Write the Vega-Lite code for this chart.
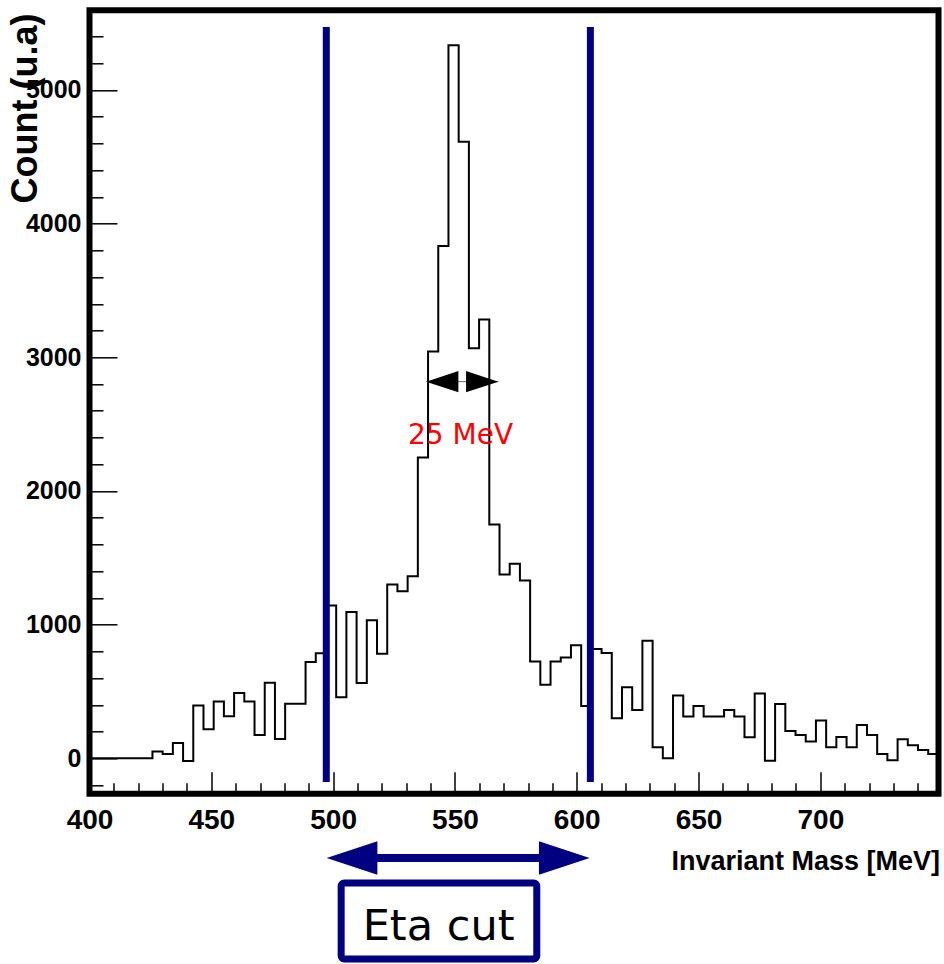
{
  "$schema": "https://vega.github.io/schema/vega-lite/v6.json",
  "width": 849,
  "height": 783.5,
  "autosize": {"type": "none"},
  "padding": {"left": 89.5, "top": 10.3, "right": 5.5, "bottom": 170.2},
  "background": "white",
  "config": {
    "view": {"stroke": "black", "strokeWidth": 6},
    "axis": {"grid": false, "domain": false, "tickColor": "black", "tickWidth": 1.5, "labelColor": "black", "titleColor": "black"}
  },
  "datasets": {
    "hist": [
      {"mass": 400.00, "count": 0}, {"mass": 404.89, "count": 0}, {"mass": 409.08, "count": 0}, {"mass": 413.27, "count": 0},
      {"mass": 417.46, "count": 0}, {"mass": 421.65, "count": 0}, {"mass": 425.84, "count": 50}, {"mass": 430.03, "count": 32},
      {"mass": 434.22, "count": 115}, {"mass": 438.41, "count": -20}, {"mass": 442.60, "count": 395}, {"mass": 446.79, "count": 218},
      {"mass": 450.98, "count": 425}, {"mass": 455.17, "count": 315}, {"mass": 459.36, "count": 488}, {"mass": 463.55, "count": 425},
      {"mass": 467.74, "count": 175}, {"mass": 471.93, "count": 565}, {"mass": 476.12, "count": 145}, {"mass": 480.31, "count": 408},
      {"mass": 484.50, "count": 408}, {"mass": 488.69, "count": 720}, {"mass": 492.88, "count": 785}, {"mass": 497.07, "count": 1143},
      {"mass": 501.26, "count": 457}, {"mass": 505.45, "count": 1095}, {"mass": 509.64, "count": 563}, {"mass": 513.83, "count": 1032},
      {"mass": 518.02, "count": 782}, {"mass": 522.21, "count": 1300}, {"mass": 526.40, "count": 1250}, {"mass": 530.59, "count": 1362},
      {"mass": 534.78, "count": 2250}, {"mass": 538.97, "count": 3043}, {"mass": 543.16, "count": 3833}, {"mass": 547.35, "count": 5334},
      {"mass": 551.54, "count": 4613}, {"mass": 555.73, "count": 3068}, {"mass": 559.92, "count": 3283}, {"mass": 564.11, "count": 1750},
      {"mass": 568.30, "count": 1375}, {"mass": 572.49, "count": 1455}, {"mass": 576.68, "count": 1330}, {"mass": 580.87, "count": 725},
      {"mass": 585.06, "count": 550}, {"mass": 589.25, "count": 725}, {"mass": 593.44, "count": 755}, {"mass": 597.63, "count": 845},
      {"mass": 601.82, "count": 392}, {"mass": 606.01, "count": 817}, {"mass": 610.20, "count": 787}, {"mass": 614.39, "count": 300},
      {"mass": 618.58, "count": 532}, {"mass": 622.77, "count": 362}, {"mass": 626.96, "count": 880}, {"mass": 631.15, "count": 82},
      {"mass": 635.34, "count": 0}, {"mass": 639.53, "count": 470}, {"mass": 643.72, "count": 312}, {"mass": 647.91, "count": 392},
      {"mass": 652.10, "count": 312}, {"mass": 656.29, "count": 312}, {"mass": 660.48, "count": 362}, {"mass": 664.67, "count": 312},
      {"mass": 668.86, "count": 157}, {"mass": 673.05, "count": 485}, {"mass": 677.24, "count": -18}, {"mass": 681.43, "count": 407},
      {"mass": 685.62, "count": 205}, {"mass": 689.81, "count": 175}, {"mass": 694.00, "count": 125}, {"mass": 698.19, "count": 282},
      {"mass": 702.38, "count": 82}, {"mass": 706.57, "count": 160}, {"mass": 710.76, "count": 82}, {"mass": 714.95, "count": 250},
      {"mass": 719.14, "count": 175}, {"mass": 723.33, "count": 32}, {"mass": 727.52, "count": -15}, {"mass": 731.71, "count": 142},
      {"mass": 735.90, "count": 97}, {"mass": 740.09, "count": 62}, {"mass": 744.28, "count": 32}, {"mass": 748.47, "count": 32}
    ],
    "cuts": [
      {"mass": 497.2, "lo": -177, "hi": 5471},
      {"mass": 605.6, "lo": -177, "hi": 5471}
    ]
  },
  "resolve": {"axis": {"x": "independent", "y": "independent"}},
  "layer": [
    {
      "data": {"name": "hist"},
      "mark": {"type": "line", "interpolate": "step-after", "color": "black", "strokeWidth": 2},
      "encoding": {
        "x": {
          "field": "mass", "type": "quantitative",
          "scale": {"domain": [400, 748.5], "nice": false, "zero": false},
          "axis": {
            "orient": "bottom",
            "values": [400, 450, 500, 550, 600, 650, 700],
            "format": "d",
            "tickSize": -22,
            "labelPadding": 35,
            "labelFont": "Liberation Sans", "labelFontWeight": "bold", "labelFontSize": 28,
            "labelFlush": false, "labelOverlap": false, "labelBound": false,
            "title": "Invariant Mass [MeV]",
            "titleFont": "Liberation Sans", "titleFontWeight": "bold", "titleFontSize": 27,
            "titleAnchor": "end", "titleAlign": "right", "titleBaseline": "alphabetic",
            "titleX": 850, "titleY": 75.5
          }
        },
        "y": {
          "field": "count", "type": "quantitative",
          "scale": {"domain": [-265.6, 5596], "nice": false, "zero": false},
          "axis": {
            "orient": "left",
            "values": [0, 1000, 2000, 3000, 4000, 5000],
            "format": "d",
            "tickSize": -27.5,
            "labelPadding": 36,
            "labelFont": "Liberation Sans", "labelFontWeight": "bold", "labelFontSize": 25,
            "labelFlush": false, "labelOverlap": false, "labelBound": false,
            "title": "Count (u.a)",
            "titleFont": "Liberation Sans", "titleFontWeight": "bold", "titleFontSize": 36,
            "titleAngle": -90, "titleAnchor": "end", "titleAlign": "right", "titleBaseline": "alphabetic",
            "titleX": -53, "titleY": 2.7
          }
        }
      }
    },
    {
      "data": {"name": "cuts"},
      "mark": {"type": "rule", "color": "#000080", "strokeWidth": 7},
      "encoding": {
        "x": {
          "field": "mass", "type": "quantitative",
          "scale": {"domain": [400, 748.5], "nice": false, "zero": false},
          "axis": {
            "orient": "bottom",
            "values": [410, 420, 430, 440, 460, 470, 480, 490, 510, 520, 530, 540, 560, 570, 580, 590, 610, 620, 630, 640, 660, 670, 680, 690, 710, 720, 730, 740],
            "tickSize": -11, "labels": false, "title": null
          }
        },
        "y": {
          "field": "lo", "type": "quantitative",
          "scale": {"domain": [-265.6, 5596], "nice": false, "zero": false},
          "axis": {
            "orient": "left",
            "values": [-200, 200, 400, 600, 800, 1200, 1400, 1600, 1800, 2200, 2400, 2600, 2800, 3200, 3400, 3600, 3800, 4200, 4400, 4600, 4800, 5200, 5400],
            "tickSize": -13.5, "labels": false, "title": null
          }
        },
        "y2": {"field": "hi"}
      }
    },
    {
      "data": {"values": [{"from": 538.3, "to": 567.8, "level": 2818}]},
      "mark": {"type": "rule", "color": "#666666", "strokeWidth": 1},
      "encoding": {
        "x": {"field": "from", "type": "quantitative", "axis": null},
        "x2": {"field": "to"},
        "y": {"field": "level", "type": "quantitative", "axis": null}
      }
    },
    {
      "data": {"values": [
        {"mass": 544.8, "level": 2818, "dir": "left"},
        {"mass": 561.2, "level": 2818, "dir": "right"}
      ]},
      "mark": {"type": "point", "filled": true, "opacity": 1, "color": "black", "size": 1043, "strokeWidth": 0},
      "encoding": {
        "x": {"field": "mass", "type": "quantitative", "axis": null},
        "y": {"field": "level", "type": "quantitative", "axis": null},
        "shape": {"field": "dir", "type": "nominal", "legend": null,
          "scale": {"domain": ["left", "right"], "range": ["M-1,0L1,-0.66L1,0.66Z", "M1,0L-1,-0.66L-1,0.66Z"]}}
      }
    },
    {
      "data": {"values": [{"mass": 552.3, "count": 2351, "label": "25 MeV"}]},
      "mark": {"type": "text", "color": "red", "font": "DejaVu Sans", "fontSize": 28, "align": "center", "baseline": "alphabetic"},
      "encoding": {
        "x": {"field": "mass", "type": "quantitative", "axis": null},
        "y": {"field": "count", "type": "quantitative", "axis": null},
        "text": {"field": "label"}
      }
    },
    {
      "data": {"values": [{"from": 507.75, "to": 594.9, "level": -746}]},
      "mark": {"type": "rule", "color": "#000080", "strokeWidth": 8},
      "encoding": {
        "x": {"field": "from", "type": "quantitative", "axis": null},
        "x2": {"field": "to"},
        "y": {"field": "level", "type": "quantitative", "axis": null}
      }
    },
    {
      "data": {"values": [
        {"mass": 507.76, "level": -746, "dir": "left"},
        {"mass": 594.9, "level": -746, "dir": "right"}
      ]},
      "mark": {"type": "point", "filled": true, "opacity": 1, "color": "#000080", "size": 2570, "strokeWidth": 0},
      "encoding": {
        "x": {"field": "mass", "type": "quantitative", "axis": null},
        "y": {"field": "level", "type": "quantitative", "axis": null},
        "shape": {"field": "dir", "type": "nominal", "legend": null,
          "scale": {"domain": ["left", "right"], "range": ["M-1,0L1,-0.645L1,0.645Z", "M1,0L-1,-0.645L-1,0.645Z"]}}
      }
    },
    {
      "data": {"values": [{"x1": 503.3, "x2": 583.6, "y1": -933, "y2": -1501.5}]},
      "mark": {"type": "rect", "fill": "white", "stroke": "#000080", "strokeWidth": 7, "cornerRadius": 3},
      "encoding": {
        "x": {"field": "x1", "type": "quantitative", "axis": null},
        "x2": {"field": "x2"},
        "y": {"field": "y1", "type": "quantitative", "axis": null},
        "y2": {"field": "y2"}
      }
    },
    {
      "data": {"values": [{"mass": 543.3, "count": -1359, "label": "Eta cut"}]},
      "mark": {"type": "text", "color": "black", "font": "DejaVu Sans", "fontSize": 43, "align": "center", "baseline": "alphabetic"},
      "encoding": {
        "x": {"field": "mass", "type": "quantitative", "axis": null},
        "y": {"field": "count", "type": "quantitative", "axis": null},
        "text": {"field": "label"}
      }
    }
  ]
}
